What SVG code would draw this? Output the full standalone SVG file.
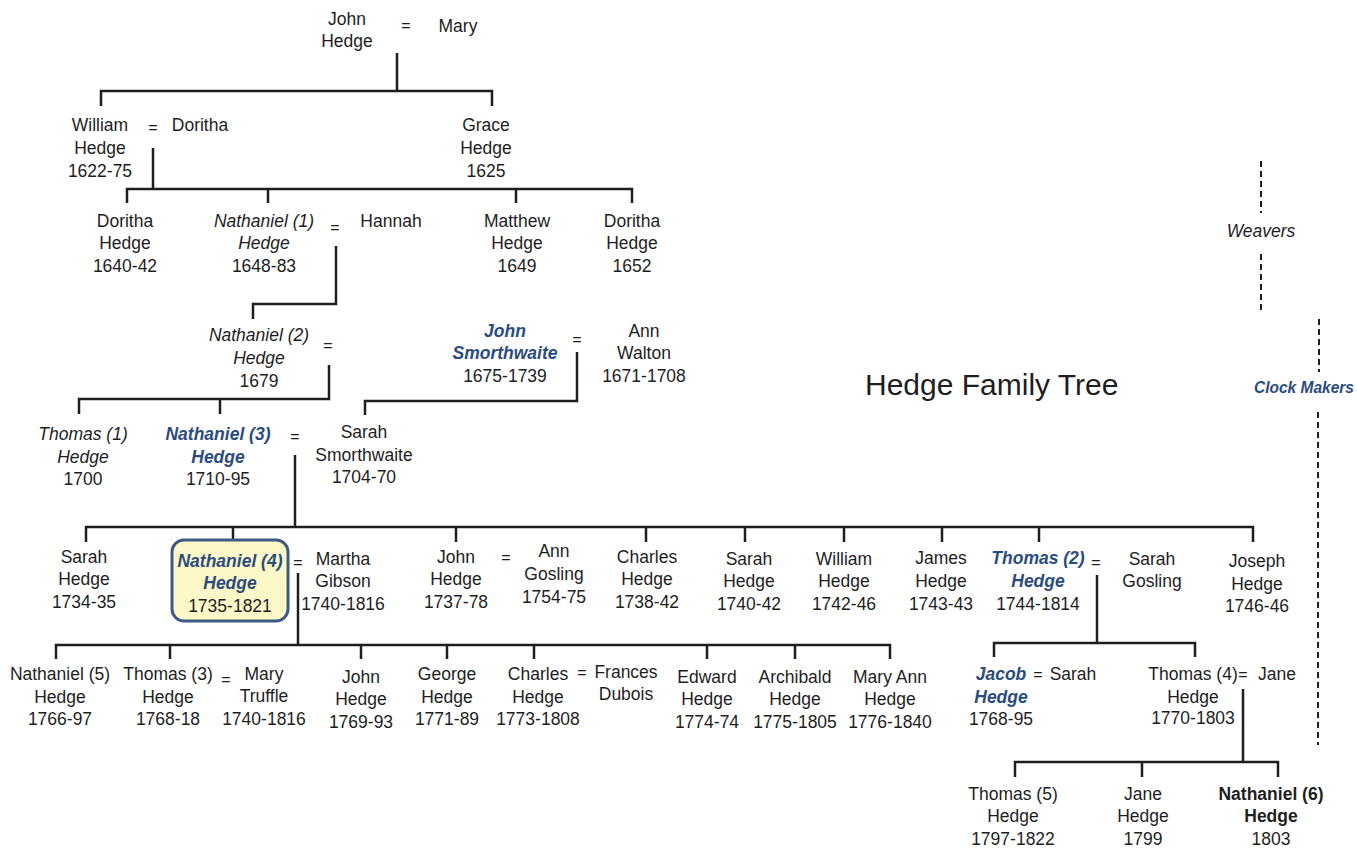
<svg xmlns="http://www.w3.org/2000/svg" width="1357" height="848" viewBox="0 0 1357 848">
<style>
text{font-family:"Liberation Sans",Arial,sans-serif;font-size:17.5px;fill:#1e1e1e;text-anchor:middle}
.i{font-style:italic}
.b{font-weight:bold;font-style:italic;fill:#2b4c7e}
.k{font-weight:bold}
.eq{font-size:16px}
.title{font-size:30px;text-anchor:start}
.con path{fill:none;stroke:#1e1e1e;stroke-width:2.5}
.dash{fill:none;stroke:#1e1e1e;stroke-width:2;stroke-dasharray:6 4}
</style>
<rect width="1357" height="848" fill="#fff"/>
<g id="connectors" class="con">
<path d="M397,53V91M101,106V91H492V106"/>
<path d="M153,148V189M127,203V189H632V203M268,189V203M516,189V203"/>
<path d="M336,246V304H253V319"/>
<path d="M329,365V399H79V414M220,399V414"/>
<path d="M577,352V401H365V415"/>
<path d="M295,455V527M86,542V527H1253V542M233,527V540M456,527V542M646,527V542M745,527V542M844,527V542M942,527V542M1039,527V542"/>
<path d="M298,573V645M56,659V645H890V659M170,645V659M361,645V659M447,645V659M534,645V659M707,645V659M795,645V659"/>
<path d="M1097,575V643M994,657V643H1195V657"/>
<path d="M1243,689V762M1015,777V762H1278V777M1142,762V777"/>
</g>
<g id="dividers">
<path class="dash" d="M1261,161V213M1261,254V312M1319,319V372M1318,412V745"/>
</g>
<g id="title"><text class="title" x="865" y="395">Hedge Family Tree</text></g>
<g id="weavers"><text class="i" x="1261" y="237">Weavers</text></g>
<g id="clockmakers"><text class="b" x="1254" y="393" style="text-anchor:start;font-size:16px" textLength="100" lengthAdjust="spacingAndGlyphs">Clock Makers</text></g>

<g id="john-hedge"><text x="347" y="25">John</text><text x="347" y="47">Hedge</text></g>
<g id="eq-john"><text class="eq" x="406" y="31">=</text></g>
<g id="mary"><text x="458" y="32">Mary</text></g>

<g id="william-hedge"><text x="100" y="131">William</text><text x="100" y="154">Hedge</text><text x="100" y="177">1622-75</text></g>
<g id="eq-william"><text class="eq" x="153" y="133">=</text></g>
<g id="doritha"><text x="200" y="131">Doritha</text></g>
<g id="grace-hedge"><text x="486" y="131">Grace</text><text x="486" y="154">Hedge</text><text x="486" y="177">1625</text></g>

<g id="doritha-hedge-1640"><text x="125" y="227">Doritha</text><text x="125" y="249">Hedge</text><text x="125" y="272">1640-42</text></g>
<g id="nathaniel-1"><text class="i" x="264" y="227">Nathaniel (1)</text><text class="i" x="264" y="249">Hedge</text><text x="264" y="272">1648-83</text></g>
<g id="eq-nathaniel1"><text class="eq" x="335" y="233">=</text></g>
<g id="hannah"><text x="391" y="227">Hannah</text></g>
<g id="matthew-hedge"><text x="517" y="227">Matthew</text><text x="517" y="249">Hedge</text><text x="517" y="272">1649</text></g>
<g id="doritha-hedge-1652"><text x="632" y="227">Doritha</text><text x="632" y="249">Hedge</text><text x="632" y="272">1652</text></g>

<g id="nathaniel-2"><text class="i" x="259" y="341">Nathaniel (2)</text><text class="i" x="259" y="364">Hedge</text><text x="259" y="387">1679</text></g>
<g id="eq-nathaniel2"><text class="eq" x="328" y="351">=</text></g>
<g id="john-smorthwaite"><text class="b" x="505" y="337">John</text><text class="b" x="505" y="359">Smorthwaite</text><text x="505" y="382">1675-1739</text></g>
<g id="eq-smorthwaite"><text class="eq" x="577" y="345">=</text></g>
<g id="ann-walton"><text x="644" y="337">Ann</text><text x="644" y="359">Walton</text><text x="644" y="382">1671-1708</text></g>

<g id="thomas-1"><text class="i" x="83" y="440">Thomas (1)</text><text class="i" x="83" y="463">Hedge</text><text x="83" y="485">1700</text></g>
<g id="nathaniel-3"><text class="b" x="218" y="440">Nathaniel (3)</text><text class="b" x="218" y="463">Hedge</text><text x="218" y="485">1710-95</text></g>
<g id="eq-nathaniel3"><text class="eq" x="295" y="442">=</text></g>
<g id="sarah-smorthwaite"><text x="364" y="438">Sarah</text><text x="364" y="461">Smorthwaite</text><text x="364" y="483">1704-70</text></g>

<g id="sarah-hedge-1734"><text x="84" y="563">Sarah</text><text x="84" y="585">Hedge</text><text x="84" y="608">1734-35</text></g>
<g id="nathaniel-4"><rect x="172" y="540" width="116" height="81" rx="12" fill="#fdf8c8" stroke="#3d5a86" stroke-width="3"/><text class="b" x="230" y="567">Nathaniel (4)</text><text class="b" x="230" y="589">Hedge</text><text x="230" y="612">1735-1821</text></g>
<g id="eq-nathaniel4"><text class="eq" x="298" y="568">=</text></g>
<g id="martha-gibson"><text x="343" y="565">Martha</text><text x="343" y="587">Gibson</text><text x="343" y="610">1740-1816</text></g>
<g id="john-hedge-1737"><text x="456" y="563">John</text><text x="456" y="585">Hedge</text><text x="456" y="608">1737-78</text></g>
<g id="eq-john1737"><text class="eq" x="506" y="563">=</text></g>
<g id="ann-gosling"><text x="554" y="557">Ann</text><text x="554" y="580">Gosling</text><text x="554" y="603">1754-75</text></g>
<g id="charles-hedge-1738"><text x="647" y="563">Charles</text><text x="647" y="585">Hedge</text><text x="647" y="608">1738-42</text></g>
<g id="sarah-hedge-1740"><text x="749" y="565">Sarah</text><text x="749" y="587">Hedge</text><text x="749" y="610">1740-42</text></g>
<g id="william-hedge-1742"><text x="844" y="565">William</text><text x="844" y="587">Hedge</text><text x="844" y="610">1742-46</text></g>
<g id="james-hedge"><text x="941" y="564">James</text><text x="941" y="587">Hedge</text><text x="941" y="610">1743-43</text></g>
<g id="thomas-2"><text class="b" x="1038" y="564">Thomas (2)</text><text class="b" x="1038" y="587">Hedge</text><text x="1038" y="610">1744-1814</text></g>
<g id="eq-thomas2"><text class="eq" x="1096" y="568">=</text></g>
<g id="sarah-gosling"><text x="1152" y="565">Sarah</text><text x="1152" y="587">Gosling</text></g>
<g id="joseph-hedge"><text x="1257" y="567">Joseph</text><text x="1257" y="590">Hedge</text><text x="1257" y="612">1746-46</text></g>

<g id="nathaniel-5"><text x="60" y="680">Nathaniel (5)</text><text x="60" y="703">Hedge</text><text x="60" y="725">1766-97</text></g>
<g id="thomas-3"><text x="168" y="680">Thomas (3)</text><text x="168" y="703">Hedge</text><text x="168" y="725">1768-18</text></g>
<g id="eq-thomas3"><text class="eq" x="226" y="685">=</text></g>
<g id="mary-truffle"><text x="264" y="680">Mary</text><text x="264" y="702">Truffle</text><text x="264" y="725">1740-1816</text></g>
<g id="john-hedge-1769"><text x="361" y="683">John</text><text x="361" y="705">Hedge</text><text x="361" y="728">1769-93</text></g>
<g id="george-hedge"><text x="447" y="680">George</text><text x="447" y="703">Hedge</text><text x="447" y="725">1771-89</text></g>
<g id="charles-hedge-1773"><text x="538" y="680">Charles</text><text x="538" y="703">Hedge</text><text x="538" y="725">1773-1808</text></g>
<g id="eq-charles"><text class="eq" x="582" y="678">=</text></g>
<g id="frances-dubois"><text x="626" y="678">Frances</text><text x="626" y="700">Dubois</text></g>
<g id="edward-hedge"><text x="707" y="683">Edward</text><text x="707" y="705">Hedge</text><text x="707" y="728">1774-74</text></g>
<g id="archibald-hedge"><text x="795" y="683">Archibald</text><text x="795" y="705">Hedge</text><text x="795" y="728">1775-1805</text></g>
<g id="mary-ann-hedge"><text x="890" y="683">Mary Ann</text><text x="890" y="705">Hedge</text><text x="890" y="728">1776-1840</text></g>

<g id="jacob-hedge"><text class="b" x="1001" y="680">Jacob</text><text class="b" x="1001" y="703">Hedge</text><text x="1001" y="725">1768-95</text></g>
<g id="eq-jacob"><text class="eq" x="1038" y="680">=</text></g>
<g id="sarah-jacob"><text x="1073" y="680">Sarah</text></g>
<g id="thomas-4"><text x="1193" y="680">Thomas (4)</text><text x="1193" y="703">Hedge</text><text x="1193" y="724">1770-1803</text></g>
<g id="eq-thomas4"><text class="eq" x="1243" y="680">=</text></g>
<g id="jane"><text x="1277" y="680">Jane</text></g>

<g id="thomas-5"><text x="1013" y="800">Thomas (5)</text><text x="1013" y="822">Hedge</text><text x="1013" y="845">1797-1822</text></g>
<g id="jane-hedge"><text x="1143" y="800">Jane</text><text x="1143" y="822">Hedge</text><text x="1143" y="845">1799</text></g>
<g id="nathaniel-6"><text class="k" x="1271" y="800">Nathaniel (6)</text><text class="k" x="1271" y="822">Hedge</text><text x="1271" y="845">1803</text></g>
</svg>
